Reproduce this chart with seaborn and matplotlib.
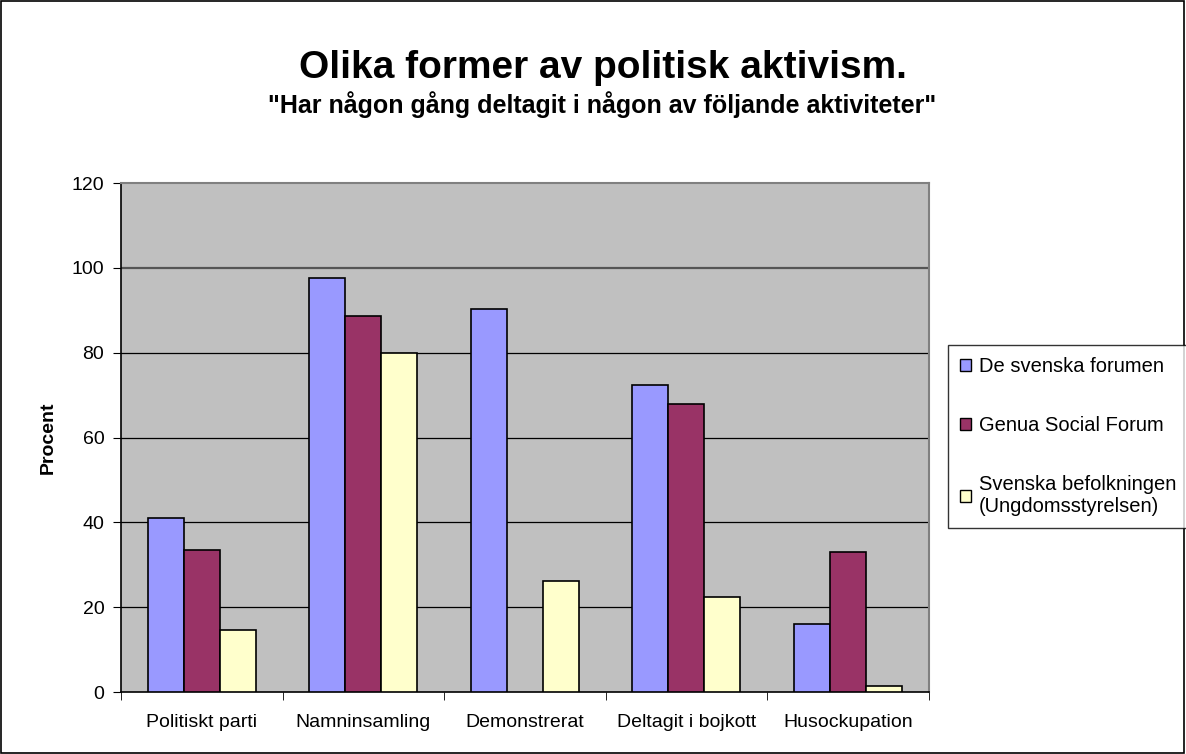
import numpy as np
import pandas as pd
import matplotlib
matplotlib.use('Agg')
import matplotlib.pyplot as plt
import matplotlib.patches as mpatches
import seaborn as sns

# Chart data
categories = ['Politiskt parti', 'Namninsamling', 'Demonstrerat', 'Deltagit i bojkott', 'Husockupation']
series = ['De svenska forumen', 'Genua Social Forum', 'Svenska befolkningen\n(Ungdomsstyrelsen)']
svenska_forumen = [41.0, 97.6, 90.3, 72.4, 16.0]
genua = [33.4, 88.6, np.nan, 67.9, 33.1]
befolkningen = [14.7, 80.0, 26.1, 22.4, 1.4]
colors = ['#9999FF', '#993366', '#FFFFCC']

rows = []
for name, vals in zip(series, [svenska_forumen, genua, befolkningen]):
    for cat, v in zip(categories, vals):
        rows.append({'kategori': cat, 'serie': name, 'procent': v})
df = pd.DataFrame(rows)

sns.set_style('white')
plt.rcParams['font.family'] = ['Liberation Sans', 'DejaVu Sans']
plt.rcParams['text.color'] = 'black'
plt.rcParams['axes.labelcolor'] = 'black'
plt.rcParams['xtick.color'] = 'black'
plt.rcParams['ytick.color'] = 'black'

fig = plt.figure(figsize=(11.86, 7.54), dpi=100)
ax = fig.add_axes([0.102, 0.0822, 0.681, 0.675])
ax.set_facecolor('#C0C0C0')

sns.barplot(data=df, x='kategori', y='procent', hue='serie', order=categories,
            hue_order=series, palette=colors, width=0.67, edgecolor='black',
            linewidth=1.2, saturation=1, ax=ax, zorder=3)

ax.set_ylim(0, 120)
ax.set_xlim(-0.5, len(categories) - 0.5)
ax.set_yticks(range(0, 121, 20))
for y in range(20, 101, 20):
    ax.axhline(y, color='black' if y < 100 else '#555555', linewidth=0.9 if y < 100 else 1.6, zorder=1)

ax.set_xlabel('')
ax.set_ylabel('Procent', fontsize=14, fontweight='bold', labelpad=11)
ax.tick_params(axis='y', labelsize=14, length=6, direction='out', left=True, pad=6)
ax.tick_params(axis='x', which='major', labelsize=14, length=0, pad=16)
ax.set_xticks(np.arange(-0.5, len(categories), 1.0), minor=True)
ax.tick_params(axis='x', which='minor', length=6, direction='out', bottom=True)

for side in ['left', 'bottom']:
    ax.spines[side].set_color('black')
    ax.spines[side].set_linewidth(1.2)
for side in ['top', 'right']:
    ax.spines[side].set_color('#808080')
    ax.spines[side].set_linewidth(1.5)

ax.get_legend().remove()
handles = [mpatches.Patch(facecolor=c, edgecolor='black', linewidth=1) for c in colors]
leg = fig.legend(handles, series, loc='upper left', bbox_to_anchor=(0.799, 0.5424),
                 bbox_transform=fig.transFigure, borderaxespad=0, fontsize=14.5,
                 frameon=True, fancybox=False, shadow=False, labelspacing=1.98,
                 handlelength=0.55, handleheight=0.55, handletextpad=0.4,
                 borderpad=0.6)
leg.get_frame().set_edgecolor('black')
leg.get_frame().set_linewidth(1)

fig.text(0.508, 0.91, 'Olika former av politisk aktivism.', ha='center', va='center',
         fontsize=28, fontweight='bold')
fig.text(0.508, 0.861, '"Har någon gång deltagit i någon av följande aktiviteter"', ha='center',
         va='center', fontsize=18, fontweight='bold')

fig.patches.append(mpatches.Rectangle((0.0005, 0.0007), 0.998, 0.998, transform=fig.transFigure,
                                      fill=False, edgecolor='black', linewidth=1.2))

fig.savefig('out.png', dpi=100)
